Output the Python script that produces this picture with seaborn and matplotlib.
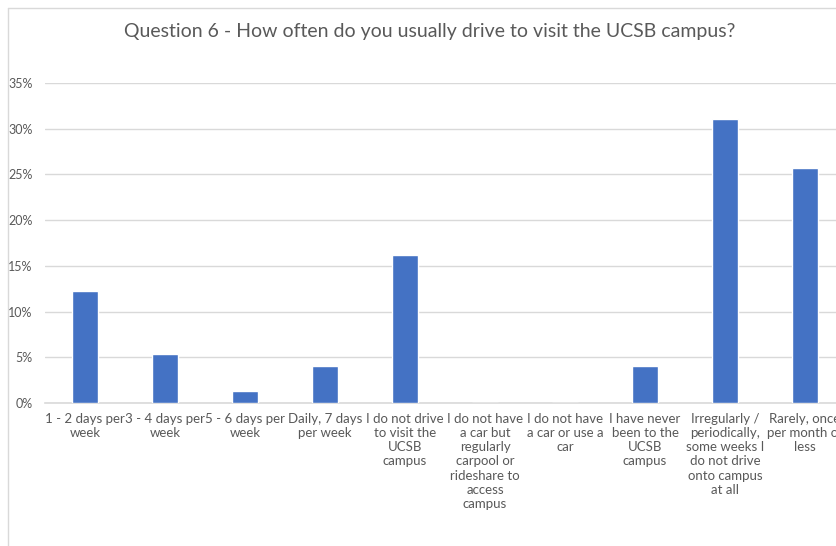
import numpy as np
import pandas as pd
import matplotlib.pyplot as plt
import seaborn as sns
from matplotlib.lines import Line2D

# answers to question 6, share of respondents (%)
answers = ['1 - 2 days per\nweek',
           '3 - 4 days per\nweek',
           '5 - 6 days per\nweek',
           'Daily, 7 days\nper week',
           'I do not drive\nto visit the\nUCSB\ncampus',
           'I do not have\na car but\nregularly\ncarpool or\nrideshare to\naccess\ncampus',
           'I do not have\na car or use a\ncar',
           'I have never\nbeen to the\nUCSB\ncampus',
           'Irregularly /\nperiodically,\nsome weeks I\ndo not drive\nonto campus\nat all',
           'Rarely, once\nper month or\nless']
share = [12.2, 5.4, 1.3, 4.1, 16.2, 0.0, 0.0, 4.1, 31.1, 25.7]
y_ticks = [0, 5, 10, 15, 20, 25, 30, 35]

W, H = 836, 546
sns.set_style('white')
plt.rcParams['font.family'] = ['Lato', 'DejaVu Sans']
text_grey = '#595959'

fig = plt.figure(figsize=(W / 100, H / 100), dpi=100)
# chart is cropped on the right, so the axes run past the figure edge
ax = fig.add_axes([45 / W, 143 / H, 800 / W, 320 / H])

df = pd.DataFrame({'answer': answers, 'share': share})
sns.barplot(data=df, x='answer', y='share', color='#4472C4', width=0.32,
            saturation=1, ax=ax, zorder=3)

ax.set_ylim(0, 35)
ax.set_xlim(-0.5, len(answers) - 0.5)
ax.set_yticks(y_ticks)
ax.set_yticklabels([f'{t}%' for t in y_ticks])
ax.set_xlabel('')
ax.set_ylabel('')
ax.yaxis.grid(True, color='#d9d9d9', linewidth=1, zorder=0)
ax.set_axisbelow(True)
for s in ['top', 'right', 'left']:
    ax.spines[s].set_visible(False)
ax.spines['bottom'].set_color('#d9d9d9')
ax.spines['bottom'].set_linewidth(1.2)
ax.tick_params(axis='y', length=0, pad=9, labelsize=9, labelcolor=text_grey)
ax.tick_params(axis='x', length=0, pad=7, labelsize=9.5, labelcolor=text_grey)
for lbl in ax.get_xticklabels():
    lbl.set_linespacing(1.22)

fig.text(430 / W, 1 - 31 / H,
         'Question 6 - How often do you usually drive to visit the UCSB campus?',
         ha='center', va='center', fontsize=14, color=text_grey)

# chart area frame (left and top edges visible)
fig.add_artist(Line2D([7.5 / W, 7.5 / W], [0, 1 - 7.5 / H], transform=fig.transFigure,
                      color='#d9d9d9', linewidth=1))
fig.add_artist(Line2D([7.5 / W, 1], [1 - 7.5 / H, 1 - 7.5 / H], transform=fig.transFigure,
                      color='#d9d9d9', linewidth=1))

fig.savefig('out.png', dpi=100)
